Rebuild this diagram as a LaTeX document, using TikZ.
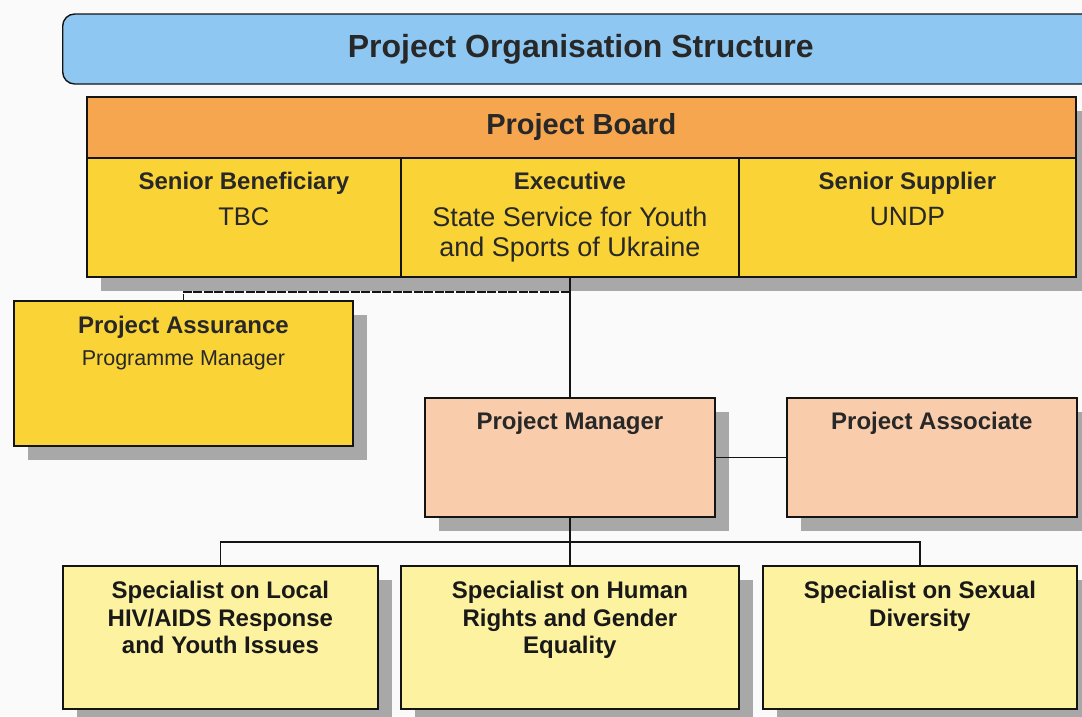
\documentclass[tikz,border=0pt]{standalone}
\usepackage{fontspec}
\setmainfont{Liberation Sans}
\usetikzlibrary{positioning, shadows}
\definecolor{titleblue}{RGB}{142, 200, 242}
\definecolor{boardorange}{RGB}{245, 166, 78}
\definecolor{boardyellow}{RGB}{250, 212, 55}
\definecolor{mgrpeach}{RGB}{249, 205, 172}
\definecolor{specyellow}{RGB}{252, 242, 160}
\definecolor{shadowgray}{RGB}{168, 168, 168}
\definecolor{inkgray}{RGB}{40, 40, 40}
\definecolor{edgegray}{RGB}{20, 20, 20}
\definecolor{pagewhite}{RGB}{250, 250, 250}

\tikzset{
  orgbox/.style={draw=edgegray, line width=1.8pt, inner sep=0pt, anchor=north west,
    drop shadow={shadow xshift=14pt, shadow yshift=-14pt, fill=shadowgray, opacity=1}},
  cell/.style={orgbox, fill=boardyellow, minimum height=119pt},
  boxhead/.style={inner sep=0pt, text=inkgray, align=center, font=\fontsize{24}{30}\selectfont},
  spechead/.style={boxhead, font=\fontsize{24}{27.5}\selectfont\bfseries},
  link/.style={draw=edgegray, line width=1.8pt},
}

\begin{document}
\begin{tikzpicture}[x=1pt, y=-1pt]
  \fill[pagewhite] (0,0) rectangle (1082,716);
  \useasboundingbox (0,0) rectangle (1082,716);

  % Title
  \node[draw=edgegray, line width=1.4pt, fill=titleblue, rounded corners=12pt, minimum width=1036pt, minimum height=70pt, anchor=west, text=inkgray, font=\fontsize{32}{36}\selectfont\bfseries] (title) at (62,49) {Project Organisation Structure};

  % Project Board
  \node[orgbox, fill=boardorange, minimum width=989pt, minimum height=61pt, text=inkgray, font=\fontsize{29}{32}\selectfont\bfseries] (board) at (86,96) {Project Board};
  \node[cell, minimum width=314pt] (senben) at (86,157) {};
  \node[cell, minimum width=338pt] (exec) at (400,157) {};
  \node[cell, minimum width=337pt] (sensup) at (738,157) {};
  \node[boxhead, below=15pt of senben.north] (senbentxt) {{\bfseries Senior Beneficiary}\\[6pt]{\fontsize{25.5}{30}\selectfont TBC}};
  \node[boxhead, below=15pt of exec.north] (exectxt) {{\bfseries Executive}\\[7pt]{\fontsize{27}{30}\selectfont State Service for Youth}\\{\fontsize{27}{30}\selectfont and Sports of Ukraine}};
  \node[boxhead, below=15pt of sensup.north] (senuptxt) {{\bfseries Senior Supplier}\\[6pt]{\fontsize{26.5}{30}\selectfont UNDP}};

  % Project Assurance
  \node[orgbox, fill=boardyellow, minimum width=339pt, minimum height=145pt] (assure) at (13,300) {};
  \node[boxhead, font=\fontsize{24}{27}\selectfont, below=16pt of assure.north] (assuretxt) {{\bfseries Project Assurance}\\[5pt]{\fontsize{21.5}{27}\selectfont Programme Manager}};

  % Project Manager and Associate
  \node[orgbox, fill=mgrpeach, minimum width=290pt, minimum height=119pt] (pm) at (424,397) {};
  \node[orgbox, fill=mgrpeach, minimum width=290pt, minimum height=119pt] (pa) at (786,397) {};
  \node[spechead, below=15pt of pm.north] (pmtxt) {Project Manager};
  \node[spechead, below=15pt of pa.north] (patxt) {Project Associate};

  % Specialists
  \node[orgbox, fill=specyellow, minimum width=315pt, minimum height=143pt] (spec1) at (62,565) {};
  \node[orgbox, fill=specyellow, minimum width=338pt, minimum height=143pt] (spec2) at (400,565) {};
  \node[orgbox, fill=specyellow, minimum width=314pt, minimum height=143pt] (spec3) at (762,565) {};
  \node[spechead, text=black!90, below=16pt of spec1.north] (spec1txt) {Specialist on Local\\HIV/AIDS Response\\and Youth Issues};
  \node[spechead, text=black!90, below=16pt of spec2.north] (spec2txt) {Specialist on Human\\Rights and Gender\\Equality};
  \node[spechead, text=black!90, below=16pt of spec3.north] (spec3txt) {Specialist on Sexual\\Diversity};

  % Connectors
  \coordinate[below=14pt of exec.south] (boardtap);
  \coordinate[below=24pt of pm.south] (bus);
  \draw[link] (exec.south) -- (pm.north);
  \draw[link, dash pattern=on 9pt off 1.5pt] (boardtap) -| (assure.north);
  \draw[link] (pm.east) -- (pa.west);
  \draw[link] (pm.south) -- (spec2.north);
  \draw[link] (spec1.north) |- (bus) -| (spec3.north);
\end{tikzpicture}
\end{document}
